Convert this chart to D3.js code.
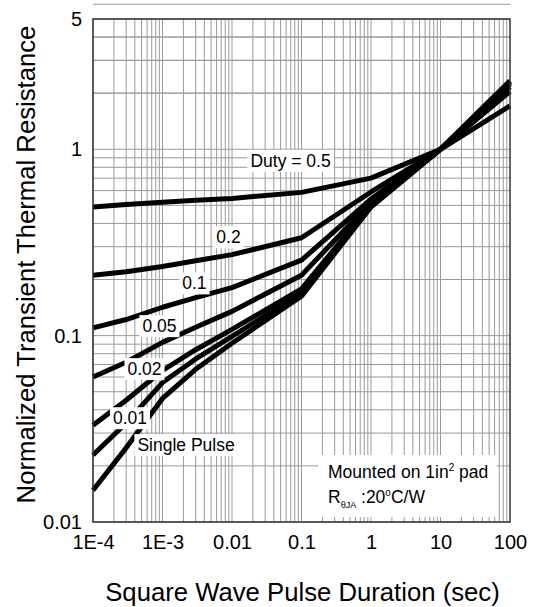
<!DOCTYPE html>
<html>
<head>
<meta charset="utf-8">
<script src="https://cdn.jsdelivr.net/npm/d3@7"></script>
<style>
  body { margin: 0; background: #fff; }
  text { font-family: "Liberation Sans", Arial, sans-serif; fill: #000; }
</style>
</head>
<body>
<div id="chart"></div>
<script>
// pulse durations (sec) where the curves were read
const times = [1e-4, 3e-4, 1e-3, 3e-3, 0.01, 0.1, 1, 10, 100];

// normalized transient thermal resistance, one array per duty cycle
const duty05 = [0.49, 0.505, 0.52, 0.532, 0.545, 0.587, 0.70, 1.0, 1.71];
const duty02 = [0.211, 0.22, 0.235, 0.252, 0.272, 0.335, 0.59, 1.0, 2.04];
const duty01 = [0.110, 0.122, 0.142, 0.160, 0.181, 0.254, 0.54, 1.0, 2.17];
const duty005 = [0.060, 0.072, 0.092, 0.111, 0.135, 0.211, 0.52, 1.0, 2.24];
const duty002 = [0.033, 0.045, 0.065, 0.084, 0.108, 0.178, 0.505, 1.0, 2.28];
const duty001 = [0.0229, 0.034, 0.056, 0.075, 0.099, 0.170, 0.50, 1.0, 2.30];
const single = [0.0148, 0.025, 0.046, 0.066, 0.091, 0.163, 0.49, 1.0, 2.33];

const seriesNames = ['Duty = 0.5', '0.2', '0.1', '0.05', '0.02', '0.01', 'Single Pulse'];
const seriesValues = [duty05, duty02, duty01, duty005, duty002, duty001, single];
// where each curve label sits, in data units (time, resistance)
const labelTimes = [0.0695, 0.0089, 0.00288, 0.000906, 0.00055, 0.00034, 0.00218];
const labelValues = [0.868, 0.338, 0.191, 0.1126, 0.0662, 0.0361, 0.0259];

const xTickValues = [1e-4, 1e-3, 0.01, 0.1, 1, 10, 100];
const xTickLabels = ['1E-4', '1E-3', '0.01', '0.1', '1', '10', '100'];
const yTickValues = [0.01, 0.1, 1, 5];
const yTickLabels = ['0.01', '0.1', '1', '5'];

const margin = {top: 19, right: 25, bottom: 85, left: 93};
const width = 535 - margin.left - margin.right;
const height = 607 - margin.top - margin.bottom;

const svg = d3.select('#chart')
  .append('svg')
  .attr('width', 535)
  .attr('height', 607)
  .append('g')
  .attr('transform', `translate(${margin.left},${margin.top})`);

const x = d3.scaleLog().domain([1e-4, 100]).range([0, width]);
const y = d3.scaleLog().domain([0.01, 5]).range([height, 0]);

// log grid: every 1..9 of each decade
const xGrid = [];
for (let e = -4; e < 2; e++) for (let m = 1; m < 10; m++) xGrid.push(m * Math.pow(10, e));
const yGrid = [];
for (let e = -2; e < 1; e++) for (let m = 1; m < 10; m++) yGrid.push(m * Math.pow(10, e));
[2, 3, 4].forEach(v => yGrid.push(v));

svg.append('g')
  .selectAll('line')
  .data(xGrid)
  .join('line')
  .attr('x1', d => x(d)).attr('x2', d => x(d))
  .attr('y1', 0).attr('y2', height)
  .attr('stroke', '#9a9a9a')
  .attr('stroke-width', 1);
svg.append('g')
  .selectAll('line')
  .data(yGrid)
  .join('line')
  .attr('y1', d => y(d)).attr('y2', d => y(d))
  .attr('x1', 0).attr('x2', width)
  .attr('stroke', '#9a9a9a')
  .attr('stroke-width', 1);

// note box on the grid
const note = svg.append('g').attr('transform', `translate(${width - 192},${height - 67})`);
note.append('rect')
  .attr('width', 179).attr('height', 62)
  .attr('fill', '#fff');
const t1 = note.append('text').attr('x', 10).attr('y', 23).style('font-size', '17.5px');
t1.append('tspan').text('Mounted on 1in');
t1.append('tspan').attr('dy', -7).style('font-size', '10px').text('2');
t1.append('tspan').attr('dy', 7).text(' pad');
const t2 = note.append('text').attr('x', 10).attr('y', 48).style('font-size', '17.5px');
t2.append('tspan').text('R');
t2.append('tspan').attr('dy', 5).style('font-size', '9px').text('θJA');
t2.append('tspan').attr('dy', -5).text(' :20');
t2.append('tspan').attr('dy', -7).style('font-size', '10px').text('o');
t2.append('tspan').attr('dy', 7).text('C/W');

// curves
const line = d3.line()
  .x(d => x(d[0]))
  .y(d => y(d[1]));

svg.append('g')
  .selectAll('path')
  .data(seriesValues)
  .join('path')
  .attr('d', v => line(times.map((t, i) => [t, v[i]])))
  .attr('fill', 'none')
  .attr('stroke', '#000')
  .attr('stroke-width', 5)
  .attr('stroke-linejoin', 'round');

// curve labels on white boxes
const labels = svg.append('g')
  .selectAll('g')
  .data(seriesNames)
  .join('g')
  .attr('transform', (d, i) => `translate(${x(labelTimes[i])},${y(labelValues[i])})`);
labels.append('text')
  .attr('text-anchor', 'middle')
  .attr('dy', '0.35em')
  .style('font-size', '17.5px')
  .text(d => d);
labels.each(function() {
  const g = d3.select(this);
  const b = g.select('text').node().getBBox();
  g.insert('rect', 'text')
    .attr('x', b.x - 3).attr('y', b.y - 1)
    .attr('width', b.width + 6).attr('height', b.height + 2)
    .attr('fill', '#fff');
});

// frame
svg.append('rect')
  .attr('width', width).attr('height', height)
  .attr('fill', 'none')
  .attr('stroke', '#333')
  .attr('stroke-width', 1.5);

// axes
svg.append('g')
  .attr('transform', `translate(0,${height})`)
  .call(d3.axisBottom(x).tickValues(xTickValues).tickSize(0).tickPadding(13)
    .tickFormat((d, i) => xTickLabels[i]))
  .call(g => g.select('.domain').remove())
  .selectAll('text')
  .style('font-size', '20px')
  .attr('fill', '#000');
svg.append('g')
  .call(d3.axisLeft(y).tickValues(yTickValues).tickSize(0).tickPadding(11)
    .tickFormat((d, i) => yTickLabels[i]))
  .call(g => g.select('.domain').remove())
  .selectAll('text')
  .style('font-size', '20px')
  .attr('fill', '#000');

svg.append('text')
  .attr('x', width / 2 + 1)
  .attr('y', height + 79)
  .style('text-anchor', 'middle')
  .style('font-size', '25.7px')
  .text('Square Wave Pulse Duration (sec)');
svg.append('text')
  .attr('transform', `translate(${-58}, ${height / 2 - 6})rotate(-90)`)
  .style('text-anchor', 'middle')
  .style('font-size', '25.7px')
  .text('Normalized Transient Thermal Resistance');
</script>
</body>
</html>
